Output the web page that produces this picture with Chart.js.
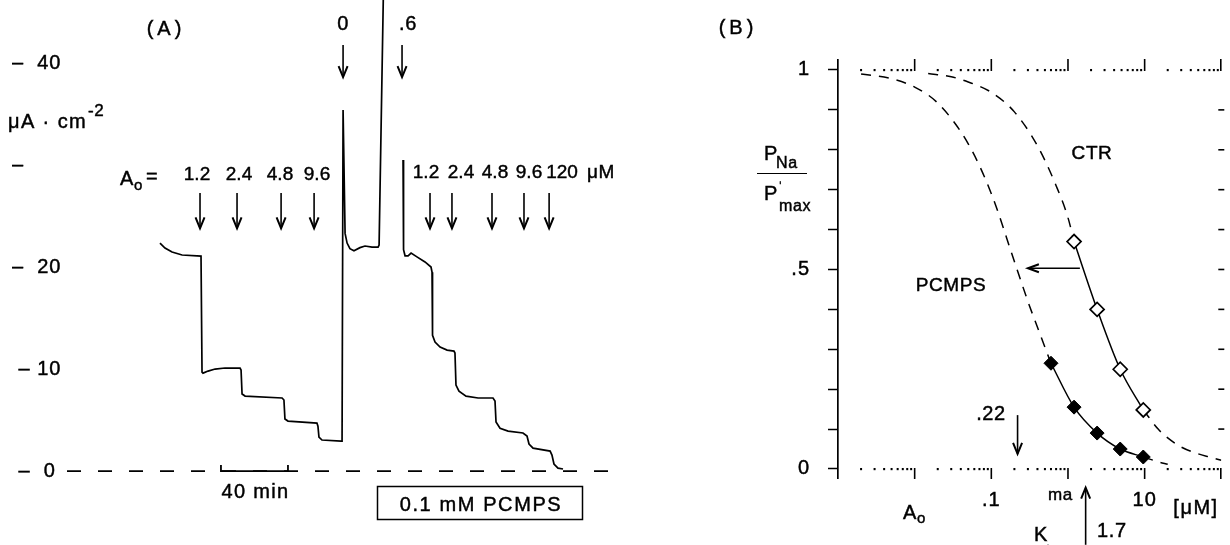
<!DOCTYPE html>
<html><head><meta charset="utf-8">
<script src="https://cdn.jsdelivr.net/npm/chart.js@4/dist/chart.umd.min.js"></script>
<style>
html,body{margin:0;padding:0;background:#fff;}
#wrap{position:relative;width:1230px;height:545px;overflow:hidden;background:#fff;}
#ca{position:absolute;left:0;top:0;}
#cb{position:absolute;left:640px;top:0;}
</style></head><body>
<div id="wrap">
<canvas id="ca" width="640" height="545"></canvas>
<canvas id="cb" width="590" height="545"></canvas>
</div>
<script>
// ---------- Panel A: current trace (time in min, current in µA·cm-2) ----------
const traceTime = [56.7,59.7,63.9,69.9,81.2,81.8,82.4,85.4,89.6,95.5,104.5,105.1,105.7,107.5,129.6,130.7,131.3,133.1,150.4,151.0,151.6,153.4,164.8,165.4,166.0,167.2,168.4,170.1,172.5,176.1,179.1,183.3,186.9,187.5,190.3,196.0,201.8,202.1,203.0,204.8,206.6,210.1,214.9,218.5,219.1,219.4,220.9,223.9,228.1,232.2,232.8,233.4,235.2,239.4,246.6,255.5,256.7,257.3,259.7,264.5,273.4,275.8,277.0,279.4,289.6,290.7,291.9,294.3,297.3];
const traceCurrent = [22.35,21.86,21.47,21.18,21.08,9.7,9.6,9.8,10.0,10.1,10.1,9.9,7.55,7.35,7.16,6.96,5.1,4.9,4.7,4.4,3.33,3.04,2.94,2.94,35.4,23.3,22.35,21.8,21.6,21.9,22.06,21.96,21.96,22.16,49.1,null,30.5,21.7,21.1,21.1,21.37,21.0,20.5,20.0,19.5,13.3,12.65,12.16,11.86,11.76,11.57,8.43,7.84,7.35,7.16,7.16,6.86,4.8,4.2,3.92,3.73,3.43,2.65,2.25,1.96,1.57,0.69,0.29,0.2];
const baselineTime = [1.2, 325];
const baselineCurrent = [0, 0];
const yTicksA = [0, 10, 20, 30, 40];
const yTickLabelsA = [' \u2013  0', ' \u2013 10', '\u2013  20', '\u2013', '\u2013  40'];
const doseLabelsCtr = ['1.2', '2.4', '4.8', '9.6'];
const doseTimesCtr = [80.6, 102.7, 129.0, 148.7];
const doseLabelsPcmps = ['1.2', '2.4', '4.8', '9.6', '120'];
const doseTimesPcmps = [217.9, 231.0, 254.9, 274.0, 289.0];
const markerLabels = ['0', '.6'];
const markerTimes = [166.0, 201.2];
const scaleBarStart = 93.1, scaleBarMinutes = 40;

// ---------- Panel B: P_Na / P'max vs A_o (µM) ----------
const ctrConc = [1.2, 2.4, 4.8, 9.6];
const ctrP = [0.57, 0.40, 0.25, 0.148];
const pcmpsConc = [0.6, 1.2, 2.4, 4.8, 9.6];
const pcmpsP = [0.265, 0.155, 0.09, 0.05, 0.03];
const ctrDashLowConc = [0.015, 0.03, 0.05, 0.1, 0.2, 0.4, 0.7, 1.0, 1.2];
const ctrDashLowP = [0.991, 0.983, 0.97, 0.944, 0.895, 0.81, 0.71, 0.63, 0.57];
const ctrDashHighConc = [9.6, 15, 20, 30, 50, 70, 100];
const ctrDashHighP = [0.148, 0.10, 0.078, 0.055, 0.038, 0.03, 0.022];
const pcmpsDashLowConc = [0.002, 0.005, 0.01, 0.02, 0.05, 0.1, 0.2, 0.3, 0.4, 0.6];
const pcmpsDashLowP = [0.99, 0.978, 0.957, 0.917, 0.815, 0.69, 0.52, 0.42, 0.355, 0.265];
const pcmpsDashHighConc = [9.6, 15, 20];
const pcmpsDashHighP = [0.03, 0.018, 0.012];
const xTickValsB = [0.1, 10];
const xTickLabelsB = ['.1', '10'];
const yTickValsB = [0, 0.1, 0.2, 0.3, 0.4, 0.5, 0.6, 0.7, 0.8, 0.9, 1];
const yTickLabelsB = ['0', '', '', '', '', '.5', '', '', '', '', '1'];
const decadeTicksB = [0.01, 0.1, 1, 10, 100];
const decadeStartsB = [0.001, 0.01, 0.1, 1, 10];
const minorMultipliers = [2, 3, 4, 5, 6, 7, 8, 9];
const kPcmps = 0.22, kCtr = 1.7;

const FONT = "'Liberation Sans', Arial, sans-serif";
const pts = (xs, ys) => xs.map((x, i) => ({x: x, y: ys[i]}));

function txt(ctx, s, x, y, size, align, spacing, base) {
  ctx.save();
  ctx.font = size + 'px ' + FONT;
  ctx.fillStyle = '#000';
  ctx.strokeStyle = '#000';
  ctx.lineWidth = 0.45;
  ctx.textAlign = align || 'left';
  ctx.textBaseline = base || 'alphabetic';
  try { ctx.letterSpacing = (spacing == null ? 0.6 : spacing) + 'px'; } catch (e) {}
  ctx.fillText(s, x, y);
  ctx.strokeText(s, x, y);
  const w = ctx.measureText(s).width;
  ctx.restore();
  return w;
}
function arrowV(ctx, x, yTail, yTip) {
  ctx.save();
  ctx.strokeStyle = '#000'; ctx.lineWidth = 1.6; ctx.lineCap = 'butt';
  ctx.beginPath(); ctx.moveTo(x, yTail); ctx.lineTo(x, yTip); ctx.stroke();
  const d = yTip > yTail ? 1 : -1;
  ctx.lineWidth = 2;
  ctx.beginPath(); ctx.moveTo(x - 4.5, yTip - d * 11); ctx.lineTo(x, yTip); ctx.lineTo(x + 4.5, yTip - d * 11); ctx.stroke();
  ctx.restore();
}
function arrowH(ctx, xTail, xTip, y) {
  ctx.save();
  ctx.strokeStyle = '#000'; ctx.lineWidth = 1.6;
  ctx.beginPath(); ctx.moveTo(xTail, y); ctx.lineTo(xTip, y); ctx.stroke();
  const d = xTip > xTail ? 1 : -1;
  ctx.lineWidth = 2;
  ctx.beginPath(); ctx.moveTo(xTip - d * 11, y - 4); ctx.lineTo(xTip, y); ctx.lineTo(xTip - d * 11, y + 4); ctx.stroke();
  ctx.restore();
}
const spacingPlugin = {
  id: 'spacing',
  beforeDraw(chart) { try { chart.ctx.letterSpacing = '1px'; } catch (e) {} }
};

const panelAPlugin = {
  id: 'panelA',
  afterDraw(chart) {
    const ctx = chart.ctx, xs = chart.scales.x, ys = chart.scales.y;
    txt(ctx, '(A)', 166, 35, 20, 'center', 4);
    // unit label
    const w = txt(ctx, '\u03bcA \u00b7 cm', 8, 128, 20, 'left', 1.4);
    txt(ctx, '-2', 8 + w + 1, 116, 17, 'left', 0.6);
    // A_o =
    txt(ctx, 'A', 120, 185, 20);
    txt(ctx, 'o', 134, 190, 15);
    txt(ctx, '=', 146, 183, 20);
    const labA = [197, 239, 280, 317];
    doseTimesCtr.forEach((t, i) => {
      txt(ctx, doseLabelsCtr[i], labA[i], 180, 19, 'center', 0);
      arrowV(ctx, xs.getPixelForValue(t), ys.getPixelForValue(27.25), ys.getPixelForValue(23.8));
    });
    const labB = [426, 461, 495, 529, 562];
    doseTimesPcmps.forEach((t, i) => {
      txt(ctx, doseLabelsPcmps[i], labB[i], 178, 19, 'center', 0);
      arrowV(ctx, xs.getPixelForValue(t), ys.getPixelForValue(27.25), ys.getPixelForValue(23.8));
    });
    txt(ctx, '\u03bcM', 587, 178, 19, 'left', 0.5);
    const labM = [343, 408];
    markerTimes.forEach((t, i) => {
      txt(ctx, markerLabels[i], labM[i], 30, 20, 'center');
      arrowV(ctx, xs.getPixelForValue(t), ys.getPixelForValue(41.76), ys.getPixelForValue(38.63));
    });
    // 40 min scale bar
    const bx0 = xs.getPixelForValue(scaleBarStart), bx1 = xs.getPixelForValue(scaleBarStart + scaleBarMinutes);
    const by = ys.getPixelForValue(0);
    ctx.save(); ctx.strokeStyle = '#000'; ctx.lineWidth = 1.8;
    ctx.beginPath(); ctx.moveTo(bx0, by - 6); ctx.lineTo(bx0, by); ctx.lineTo(bx1, by); ctx.lineTo(bx1, by - 6); ctx.stroke();
    ctx.restore();
    txt(ctx, '40 min', (bx0 + bx1) / 2 + 1, 498, 20, 'center', 1.3);
    // PCMPS box
    ctx.save(); ctx.strokeStyle = '#000'; ctx.lineWidth = 1.5;
    ctx.strokeRect(377.5, 486.5, 205, 33); ctx.restore();
    txt(ctx, '0.1 mM PCMPS', 481, 511, 20, 'center', 1.6);
  }
};

new Chart(document.getElementById('ca'), {
  type: 'line',
  data: {datasets: [
    {data: pts(traceTime, traceCurrent), borderColor: '#000', borderWidth: 1.7, pointRadius: 0, tension: 0, spanGaps: false},
    {data: pts(baselineTime, baselineCurrent), borderColor: '#000', borderWidth: 1.7, borderDash: [14, 17], pointRadius: 0}
  ]},
  options: {
    responsive: false, animation: false, events: [],
    layout: {padding: {left: 12, right: 15, top: 0, bottom: 0}},
    plugins: {legend: {display: false}, tooltip: {enabled: false}},
    scales: {
      x: {type: 'linear', min: 0, max: 334.3, display: false},
      y: {type: 'linear', min: -7.25, max: 46.18, position: 'left',
        grid: {display: false}, border: {display: false},
        afterBuildTicks: s => { s.ticks = yTicksA.map(v => ({value: v})); },
        afterFit: s => { s.width = 53; s.paddingTop = 0; s.paddingBottom = 0; },
        ticks: {autoSkip: false, crossAlign: 'far', padding: 0, color: '#000',
          textStrokeColor: '#000', textStrokeWidth: 0.45,
          font: {family: FONT, size: 20}, callback: (v, i) => yTickLabelsA[i]}
      }
    }
  },
  plugins: [spacingPlugin, panelAPlugin]
});

const panelBPlugin = {
  id: 'panelB',
  afterDraw(chart) {
    const ctx = chart.ctx, xs = chart.scales.x, ys = chart.scales.y, ca = chart.chartArea;
    const y0 = ys.getPixelForValue(0), y1 = ys.getPixelForValue(1);
    ctx.save(); ctx.fillStyle = '#000'; ctx.strokeStyle = '#000'; ctx.lineWidth = 1.6;
    decadeStartsB.forEach(d => minorMultipliers.forEach(m => {
      const px = xs.getPixelForValue(d * m);
      ctx.fillRect(px - 1, y0 - 1, 2, 2.2);
      ctx.fillRect(px - 1, y1 - 1, 2, 2.2);
    }));
    decadeTicksB.forEach(v => {
      const px = Math.min(xs.getPixelForValue(v), ca.right - 0.5);
      ctx.beginPath(); ctx.moveTo(px, y0 - 1); ctx.lineTo(px, y0 + 10); ctx.stroke();
      ctx.beginPath(); ctx.moveTo(px, y1 + 1); ctx.lineTo(px, y1 - 11); ctx.stroke();
    });
    yTickValsB.slice(1, 10).forEach(v => {
      const py = ys.getPixelForValue(v);
      ctx.beginPath(); ctx.moveTo(ca.right - 3, py); ctx.lineTo(ca.right + 3, py); ctx.stroke();
    });
    ctx.restore();
    txt(ctx, '(B)', 98, 34, 20, 'center', 4);
    // y title: P_Na / P'_max
    txt(ctx, 'P', 124, 160, 20);
    txt(ctx, 'Na', 136, 168, 16);
    ctx.save(); ctx.strokeStyle = '#000'; ctx.lineWidth = 1.2;
    ctx.beginPath(); ctx.moveTo(117, 173.5); ctx.lineTo(167, 173.5); ctx.stroke(); ctx.restore();
    txt(ctx, 'P', 124, 200, 20);
    txt(ctx, '\u02c8', 138, 192, 14);
    txt(ctx, 'max', 139, 211, 16);
    txt(ctx, 'CTR', 452, 159, 19, 'center');
    txt(ctx, 'PCMPS', 311, 291, 19, 'center');
    // arrow CTR -> PCMPS
    arrowH(ctx, xs.getPixelForValue(1.43), xs.getPixelForValue(0.3), ys.getPixelForValue(0.503));
    // .22 marker
    txt(ctx, '.22', 351, 420, 20, 'center');
    arrowV(ctx, xs.getPixelForValue(kPcmps), ys.getPixelForValue(0.135), ys.getPixelForValue(0.038));
    // 1.7 marker
    arrowV(ctx, xs.getPixelForValue(kCtr), ys.getPixelForValue(-0.19), ys.getPixelForValue(-0.047));
    txt(ctx, '1.7', 457, 537, 20);
    txt(ctx, 'K', 394, 541, 20);
    txt(ctx, 'ma', 408, 500, 17);
    txt(ctx, 'A', 403, 555, 15);
    // axis labels
    txt(ctx, 'A', 263, 519, 20);
    txt(ctx, 'o', 277, 523, 15);
    txt(ctx, '[\u03bcM]', 556, 514, 20, 'center', 1.5);
  }
};

const dashStyle = {borderColor: '#000', borderWidth: 1.5, borderDash: [10, 8], pointRadius: 0, cubicInterpolationMode: 'monotone'};
new Chart(document.getElementById('cb'), {
  type: 'line',
  data: {datasets: [
    {data: pts(pcmpsConc, pcmpsP), borderColor: '#000', borderWidth: 1.5, cubicInterpolationMode: 'monotone',
      pointStyle: 'rectRot', pointRadius: 7, pointBackgroundColor: '#000', pointBorderColor: '#000', pointBorderWidth: 1},
    {data: pts(ctrConc, ctrP), borderColor: '#000', borderWidth: 1.5, cubicInterpolationMode: 'monotone',
      pointStyle: 'rectRot', pointRadius: 7, pointBackgroundColor: '#fff', pointBorderColor: '#000', pointBorderWidth: 1.7},
    Object.assign({data: pts(pcmpsDashLowConc, pcmpsDashLowP)}, dashStyle),
    Object.assign({data: pts(pcmpsDashHighConc, pcmpsDashHighP)}, dashStyle),
    Object.assign({data: pts(ctrDashLowConc, ctrDashLowP)}, dashStyle),
    Object.assign({data: pts(ctrDashHighConc, ctrDashHighP)}, dashStyle)
  ]},
  options: {
    responsive: false, animation: false, events: [],
    layout: {padding: {left: 0, right: 2, top: 60, bottom: 0}},
    plugins: {legend: {display: false}, tooltip: {enabled: false}},
    scales: {
      x: {type: 'logarithmic', min: 0.001, max: 100,
        grid: {display: false}, border: {display: false},
        afterBuildTicks: s => { s.ticks = xTickValsB.map(v => ({value: v})); },
        afterFit: s => { s.height = 67; },
        ticks: {autoSkip: false, maxRotation: 0, padding: 2, color: '#000',
          textStrokeColor: '#000', textStrokeWidth: 0.45,
          font: {family: FONT, size: 20}, callback: (v, i) => xTickLabelsB[i]}
      },
      y: {type: 'linear', min: -0.0226, max: 1.025,
        grid: {drawOnChartArea: false, drawTicks: true, tickLength: 10, tickColor: '#000', tickWidth: 1.5},
        border: {display: true, color: '#000', width: 1.7},
        afterBuildTicks: s => { s.ticks = yTickValsB.map(v => ({value: v})); },
        afterFit: s => { s.width = 198; },
        ticks: {autoSkip: false, padding: 18, color: '#000',
          textStrokeColor: '#000', textStrokeWidth: 0.45,
          font: {family: FONT, size: 20}, callback: (v, i) => yTickLabelsB[i]}
      }
    }
  },
  plugins: [spacingPlugin, panelBPlugin]
});
</script>
</body></html>
